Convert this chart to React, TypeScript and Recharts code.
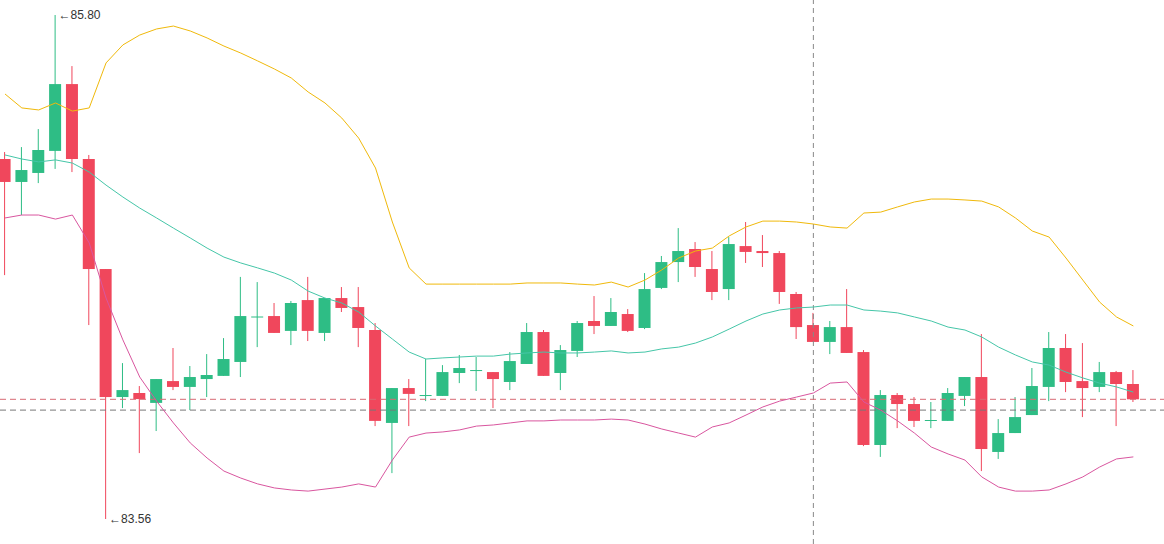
import React from 'react';
import {
  ComposedChart,
  Bar,
  Line,
  XAxis,
  YAxis,
  ReferenceLine,
  ReferenceDot,
} from 'recharts';

// OHLC per candle (68 candles, oldest first)
const opens = [
  85.160, 85.058, 85.098, 85.196, 85.493, 85.160, 84.671, 84.102, 84.120, 84.076,
  84.173, 84.147, 84.182, 84.196, 84.258, 84.456, 84.462, 84.396, 84.533, 84.387,
  84.542, 84.502, 84.400, 83.987, 84.142, 84.107, 84.107, 84.209, 84.220, 84.213,
  84.169, 84.249, 84.391, 84.209, 84.307, 84.440, 84.418, 84.471, 84.409, 84.587,
  84.702, 84.760, 84.671, 84.582, 84.773, 84.751, 84.742, 84.560, 84.422, 84.347,
  84.413, 84.302, 83.889, 84.111, 84.071, 83.998, 83.996, 84.107, 84.191, 83.858,
  83.942, 84.022, 84.147, 84.320, 84.173, 84.147, 84.213, 84.160,
];
const closes = [
  85.058, 85.111, 85.200, 85.493, 85.160, 84.671, 84.102, 84.133, 84.093, 84.182,
  84.147, 84.191, 84.200, 84.271, 84.462, 84.460, 84.387, 84.520, 84.396, 84.542,
  84.498, 84.409, 83.996, 84.142, 84.116, 84.111, 84.213, 84.231, 84.222, 84.182,
  84.262, 84.391, 84.196, 84.311, 84.431, 84.418, 84.480, 84.396, 84.582, 84.702,
  84.751, 84.680, 84.569, 84.782, 84.747, 84.742, 84.569, 84.413, 84.347, 84.413,
  84.298, 83.889, 84.111, 84.071, 83.996, 84.000, 84.120, 84.191, 83.871, 83.942,
  84.013, 84.151, 84.320, 84.169, 84.142, 84.213, 84.160, 84.092,
];
const highs = [
  85.191, 85.213, 85.293, 85.800, 85.573, 85.178, 84.671, 84.253, 84.151, 84.182,
  84.320, 84.240, 84.293, 84.364, 84.636, 84.613, 84.520, 84.529, 84.636, 84.542,
  84.591, 84.591, 84.431, 84.142, 84.182, 84.271, 84.244, 84.289, 84.280, 84.213,
  84.302, 84.431, 84.400, 84.333, 84.440, 84.551, 84.542, 84.493, 84.653, 84.729,
  84.853, 84.791, 84.751, 84.813, 84.880, 84.822, 84.751, 84.569, 84.476, 84.440,
  84.582, 84.311, 84.133, 84.120, 84.102, 84.080, 84.142, 84.191, 84.382, 84.004,
  84.102, 84.231, 84.391, 84.382, 84.342, 84.258, 84.218, 84.222,
];
const lows = [
  84.644, 84.911, 85.053, 85.116, 85.102, 84.422, 83.560, 84.053, 83.853, 83.951,
  84.133, 84.044, 84.102, 84.196, 84.191, 84.324, 84.387, 84.333, 84.351, 84.351,
  84.480, 84.324, 83.973, 83.764, 83.973, 84.084, 84.107, 84.164, 84.129, 84.053,
  84.133, 84.249, 84.196, 84.133, 84.280, 84.382, 84.418, 84.391, 84.404, 84.582,
  84.613, 84.636, 84.533, 84.533, 84.698, 84.680, 84.516, 84.360, 84.347, 84.293,
  84.298, 83.884, 83.836, 83.964, 83.969, 83.964, 83.996, 84.062, 83.773, 83.827,
  83.942, 84.022, 84.084, 84.124, 84.013, 84.124, 83.973, 84.080,
];

// Bollinger bands
const upperBand = [
  85.449, 85.387, 85.378, 85.409, 85.373, 85.387, 85.587, 85.667, 85.711, 85.738,
  85.751, 85.729, 85.698, 85.662, 85.631, 85.596, 85.560, 85.520, 85.458, 85.409,
  85.342, 85.253, 85.120, 84.880, 84.676, 84.604, 84.604, 84.604, 84.604, 84.604,
  84.604, 84.609, 84.609, 84.609, 84.604, 84.600, 84.613, 84.591, 84.622, 84.667,
  84.720, 84.751, 84.764, 84.818, 84.858, 84.884, 84.884, 84.880, 84.871, 84.858,
  84.853, 84.920, 84.924, 84.947, 84.969, 84.982, 84.982, 84.978, 84.973, 84.947,
  84.898, 84.840, 84.813, 84.720, 84.622, 84.524, 84.458, 84.418,
];
const midBand = [
  85.178, 85.160, 85.147, 85.156, 85.142, 85.102, 85.044, 84.991, 84.942, 84.898,
  84.853, 84.809, 84.764, 84.724, 84.698, 84.676, 84.653, 84.622, 84.573, 84.542,
  84.520, 84.480, 84.418, 84.360, 84.302, 84.271, 84.276, 84.280, 84.284, 84.284,
  84.293, 84.298, 84.302, 84.298, 84.298, 84.302, 84.307, 84.298, 84.302, 84.316,
  84.324, 84.342, 84.369, 84.404, 84.440, 84.471, 84.489, 84.498, 84.502, 84.511,
  84.511, 84.489, 84.484, 84.476, 84.458, 84.440, 84.413, 84.400, 84.369, 84.324,
  84.289, 84.258, 84.244, 84.213, 84.187, 84.164, 84.147, 84.124,
];
const lowerBand = [
  84.898, 84.911, 84.911, 84.893, 84.911, 84.787, 84.542, 84.356, 84.191, 84.084,
  83.987, 83.898, 83.831, 83.773, 83.742, 83.716, 83.698, 83.689, 83.684, 83.693,
  83.702, 83.716, 83.702, 83.822, 83.924, 83.942, 83.947, 83.956, 83.973, 83.978,
  83.987, 83.996, 83.996, 84.000, 84.000, 84.000, 84.004, 84.000, 83.982, 83.960,
  83.942, 83.924, 83.969, 83.987, 84.022, 84.058, 84.084, 84.102, 84.120, 84.164,
  84.169, 84.080, 84.044, 83.996, 83.942, 83.880, 83.849, 83.822, 83.747, 83.702,
  83.684, 83.684, 83.689, 83.716, 83.747, 83.791, 83.827, 83.836,
];

// crosshair position (candle index, price)
const crosshairIndex = 48;
const crosshairPrice = 84.044;

const UP = '#2EBD85';
const DOWN = '#F0475C';

const W = 1164;
const H = 544;

const data = opens.map((o, i) => ({
  i,
  open: o,
  close: closes[i],
  high: highs[i],
  low: lows[i],
  range: [lows[i], highs[i]],
  upper: upperBand[i],
  mid: midBand[i],
  lower: lowerBand[i],
}));

const lastClose = closes[closes.length - 1];
let maxIdx = 0;
let minIdx = 0;
highs.forEach((h, i) => { if (h > highs[maxIdx]) maxIdx = i; });
lows.forEach((l, i) => { if (l < lows[minIdx]) minIdx = i; });

const Candle = (props: any) => {
  const { x, y, width, height, payload } = props;
  if (!payload) return null;
  const { open, close, high, low } = payload;
  const top = Math.min(y, y + height);
  const h = Math.abs(height);
  const ppu = high - low > 0 ? h / (high - low) : 0;
  const bodyTop = top + (high - Math.max(open, close)) * ppu;
  const bodyH = Math.max(1, Math.abs(open - close) * ppu);
  const color = close >= open ? UP : DOWN;
  const cx = x + width / 2;
  return (
    <g>
      <rect x={cx - 0.5} y={top} width={1} height={Math.max(1, h)} fill={color} />
      <rect x={x} y={bodyTop} width={width} height={bodyH} fill={color} />
    </g>
  );
};

const ExtremeLabel = (value: string) => (props: any) => (
  <g fontSize={12} fontFamily="'Liberation Sans', Arial, sans-serif" fill="#333">
    <text x={props.cx + 3} y={props.cy} dominantBaseline="central">←</text>
    <text x={props.cx + 15} y={props.cy} dominantBaseline="central">{value}</text>
  </g>
);

export default function App() {
  return (
    <div style={{ position: 'absolute', left: 0, top: 0, width: W, height: H, background: '#fff' }}>
      <ComposedChart width={W} height={H} data={data} margin={{ top: 0, right: 0, bottom: 0, left: 0 }}>
        <XAxis dataKey="i" type="number" domain={[-0.297, 68.82]} hide allowDataOverflow />
        <YAxis type="number" domain={[83.4489, 85.8667]} hide allowDataOverflow />
        <ReferenceLine x={crosshairIndex} stroke="#888" strokeDasharray="5 4" />
        <ReferenceLine y={lastClose} stroke="#d86a74" strokeDasharray="6 4" />
        <ReferenceLine y={crosshairPrice} stroke="#777" strokeDasharray="6 4" />
        <Line type="linear" dataKey="upper" stroke="#F0B90B" strokeWidth={1} dot={false} activeDot={false} isAnimationActive={false} />
        <Line type="linear" dataKey="mid" stroke="#45C6A8" strokeWidth={1} dot={false} activeDot={false} isAnimationActive={false} />
        <Line type="linear" dataKey="lower" stroke="#D9569F" strokeWidth={1} dot={false} activeDot={false} isAnimationActive={false} />
        <Bar dataKey="range" barSize={12} shape={Candle} isAnimationActive={false} />
        <ReferenceDot x={maxIdx} y={highs[maxIdx]} r={0} shape={ExtremeLabel(highs[maxIdx].toFixed(2))} />
        <ReferenceDot x={minIdx} y={lows[minIdx]} r={0} shape={ExtremeLabel(lows[minIdx].toFixed(2))} />
      </ComposedChart>
    </div>
  );
}
